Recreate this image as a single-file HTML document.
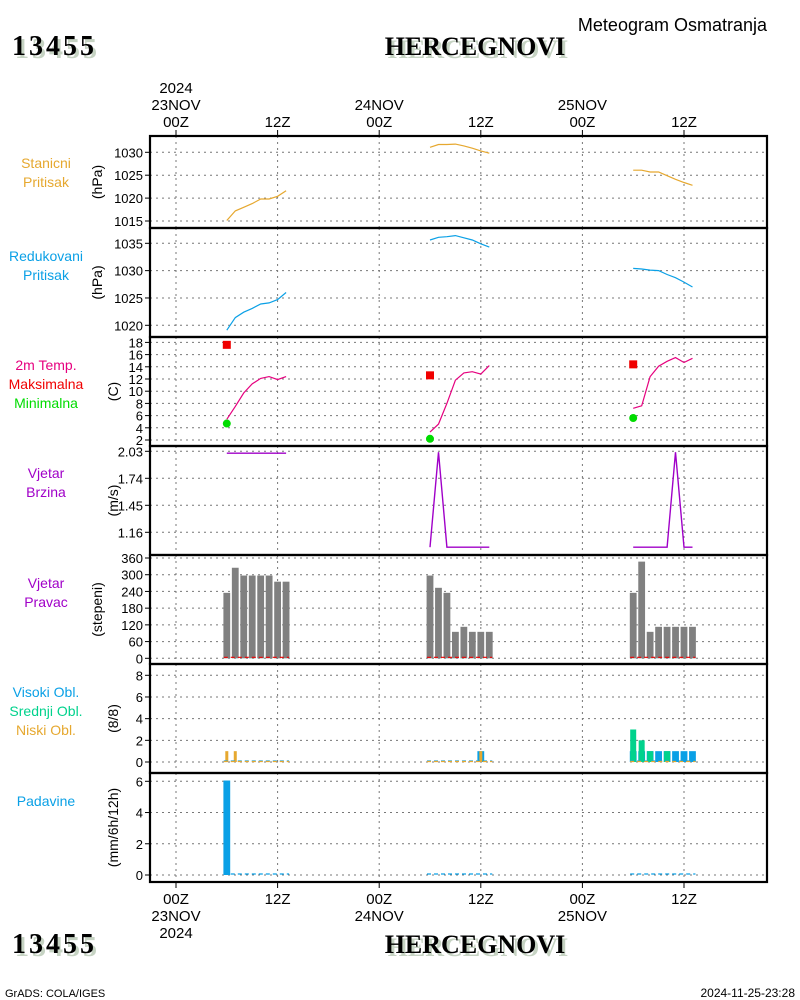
<!DOCTYPE html>
<html><head><meta charset="utf-8"><style>
html,body{margin:0;padding:0;background:#fff;}
svg{display:block;font-family:"Liberation Sans",sans-serif;}
.big{font-family:"Liberation Serif",serif;font-weight:bold;font-size:26px;}
.id{letter-spacing:3px;font-size:28px;}
</style></head><body>
<svg id="chart" width="800" height="1000" viewBox="0 0 800 1000" xmlns="http://www.w3.org/2000/svg">
<rect x="0" y="0" width="800" height="1000" fill="#fff"/>
<g>
<text class="big id" x="15" y="58" fill="#c6d3c3">13455</text>
<text class="big id" x="12" y="55" fill="#000">13455</text>
<text class="big" x="478" y="58" fill="#c6d3c3" text-anchor="middle">HERCEGNOVI</text>
<text class="big" x="475" y="55" fill="#000" text-anchor="middle">HERCEGNOVI</text>
<text x="767" y="31" font-size="18" text-anchor="end">Meteogram Osmatranja</text>
</g>
<g>
<text class="big id" x="15" y="956" fill="#c6d3c3">13455</text>
<text class="big id" x="12" y="953" fill="#000">13455</text>
<text class="big" x="478" y="956" fill="#c6d3c3" text-anchor="middle">HERCEGNOVI</text>
<text class="big" x="475" y="953" fill="#000" text-anchor="middle">HERCEGNOVI</text>
<text x="5" y="997" font-size="11">GrADS: COLA/IGES</text>
<text x="795" y="997" font-size="12" text-anchor="end">2024-11-25-23:28</text>
</g>
<g id="g"></g>
</svg>
<script>
// ---- data (hours since 23NOV 00Z) ----
const hours = [6,7,8,9,10,11,12,13, 30,31,32,33,34,35,36,37, 54,55,56,57,58,59,60,61];
const stationPressure = [1015.1,1017.2,1018.0,1018.8,1019.8,1019.8,1020.4,1021.6, 1031.1,1031.7,1031.7,1031.8,1031.4,1030.9,1030.3,1029.8, 1026.1,1026.1,1025.7,1025.7,1024.9,1024.1,1023.4,1022.8];
const reducedPressure = [1019.1,1021.4,1022.4,1023.1,1023.9,1024.1,1024.7,1026.0, 1035.6,1036.1,1036.2,1036.4,1036.0,1035.6,1034.9,1034.3, 1030.4,1030.3,1030.1,1030.0,1029.3,1028.7,1027.9,1027.0];
const temperature = [5.4,7.5,9.7,11.2,12.1,12.4,11.9,12.4, 3.3,4.6,8.0,11.8,13.0,13.2,12.8,14.2, 7.2,7.6,12.4,14.1,14.9,15.5,14.7,15.4];
const maxHours = [6,30,54];
const maxTemp = [17.6,12.6,14.4];
const minTemp = [4.7,2.2,5.6];
const windSpeed = [2.01,2.01,2.01,2.01,2.01,2.01,2.01,2.01, 1.0,2.02,1.0,1.0,1.0,1.0,1.0,1.0, 1.0,1.0,1.0,1.0,1.0,2.02,1.0,1.0];
const windDir = [235,325,297,297,297,297,275,275, 297,253,235,95,113,95,95,95, 235,347,95,113,113,113,113,113];
const cloudHigh = [0,0,0,0,0,0,0,0, 0,0,0,0,0,0,1,0, 1,1,1,1,1,1,1,1];
const cloudMid = [0,0,0,0,0,0,0,0, 0,0,0,0,0,0,0,0, 3,2,1,0,1,0,0,0];
const cloudLow = [1,1,0,0,0,0,0,0, 0,0,0,0,0,0,1,0, 0,0,0,0,0,0,0,0];
const precip = [6.05,0,0,0,0,0,0,0, 0,0,0,0,0,0,0,0, 0,0,0,0,0,0,0,0];
const p1Ticks = [1015,1020,1025,1030];
const p2Ticks = [1020,1025,1030,1035];
const p3Ticks = [2,4,6,8,10,12,14,16,18];
const p4Ticks = [1.16,1.45,1.74,2.03];
const p5Ticks = [0,60,120,180,240,300,360];
const p6Ticks = [0,2,4,6,8];
const p7Ticks = [0,2,4,6];
const xTickHours = [0,12,24,36,48,60];

const NS="http://www.w3.org/2000/svg";
const G=document.getElementById('g');
function mk(tag,attrs,parent){const e=document.createElementNS(NS,tag);for(const k in attrs)e.setAttribute(k,attrs[k]);(parent||G).appendChild(e);return e;}
const X0=150,X1=767;
function xs(h){return 176+h*(684-176)/60;}
function lin(v0,p0,v1,p1){return v=>p0+(v-v0)*(p1-p0)/(v1-v0);}
const panels=[
 {name:'station-pressure',top:136,bot:228,y:lin(1015,221,1030,152.3),ticks:p1Ticks,unit:'(hPa)',ux:97,labels:[['Stanicni','#e6a82f'],['Pritisak','#e6a82f']],ly:168},
 {name:'reduced-pressure',top:228,bot:337,y:lin(1020,325.3,1035,243.3),ticks:p2Ticks,unit:'(hPa)',ux:97,labels:[['Redukovani','#0aa0e6'],['Pritisak','#0aa0e6']],ly:261},
 {name:'temperature',top:337,bot:446,y:lin(2,440,18,342.4),ticks:p3Ticks,unit:'(C)',ux:113,labels:[['2m Temp.','#e6007f'],['Maksimalna','#f00000'],['Minimalna','#00dc00']],ly:370},
 {name:'wind-speed',top:446,bot:555,y:lin(1.16,532.3,2.03,451.3),ticks:p4Ticks,unit:'(m/s)',ux:113,labels:[['Vjetar','#a000c8'],['Brzina','#a000c8']],ly:478},
 {name:'wind-direction',top:555,bot:664,y:lin(0,658.3,360,558),ticks:p5Ticks,unit:'(stepeni)',ux:97,labels:[['Vjetar','#a000c8'],['Pravac','#a000c8']],ly:588},
 {name:'cloud-cover',top:664,bot:773,y:lin(0,762,8,675.3),ticks:p6Ticks,unit:'(8/8)',ux:113,labels:[['Visoki Obl.','#0aa0e6'],['Srednji Obl.','#00d28c'],['Niski Obl.','#e6a82f']],ly:697},
 {name:'precipitation',top:773,bot:882,y:lin(0,875,6,781.3),ticks:p7Ticks,unit:'(mm/6h/12h)',ux:113,labels:[['Padavine','#0aa0e6']],ly:806}
];
panels.forEach((p,i)=>{
 const grp=mk('g',{});
 
 
 xTickHours.forEach(h=>{const l=mk('line',{x1:xs(h),x2:xs(h),y1:p.top,y2:p.bot,stroke:'#777','stroke-dasharray':'2,4','stroke-width':1},grp);
  });
 p.ticks.forEach(t=>{const yy=p.y(t);
  const l=mk('line',{x1:X0,x2:X1,y1:yy,y2:yy,stroke:'#777','stroke-dasharray':'2,4','stroke-width':1},grp);
  
  const tk=mk('line',{x1:X0-5,x2:X0,y1:yy,y2:yy,stroke:'#000','stroke-width':1},grp);
  
  const tx=mk('text',{x:X0-7,y:yy+5,'font-size':13,'text-anchor':'end'},grp);tx.textContent=String(t);
  });
 const cy=(p.top+p.bot)/2;
 const u=mk('text',{x:p.ux,y:cy,'font-size':14,'text-anchor':'middle',transform:`rotate(-90 ${p.ux} ${cy})`,dy:5},grp);u.textContent=p.unit;
 
 p.labels.forEach((lb,j)=>{const t=mk('text',{x:46,y:p.ly+j*19,'font-size':14,'text-anchor':'middle',fill:lb[1]},grp);t.textContent=lb[0];
  });
 p.g=grp;
});
function seg(){const out=[];for(let d=0;d<3;d++)out.push([d*8,d*8+8]);return out;}
function line(p,vals,color,name,w){
 seg().forEach(([a,b])=>{const pts=[];for(let i=a;i<b;i++)pts.push(xs(hours[i]).toFixed(1)+','+p.y(vals[i]).toFixed(1));
  const pl=mk('polyline',{points:pts.join(' '),fill:'none',stroke:color,'stroke-width':w||1.2},p.g);
  });
}
line(panels[0],stationPressure,'#e6a82f','station-pressure-line');
line(panels[1],reducedPressure,'#0aa0e6','reduced-pressure-line');
line(panels[2],temperature,'#e6007f','temperature-line');
line(panels[3],windSpeed,'#a000c8','wind-speed-line',1.4);
maxHours.forEach((h,i)=>{
 const r=mk('rect',{x:xs(h)-4,y:panels[2].y(maxTemp[i])-4,width:8,height:8,fill:'#f00000'},panels[2].g);
 
 const c=mk('circle',{cx:xs(h),cy:panels[2].y(minTemp[i]),r:4,fill:'#00dc00'},panels[2].g);
 
});
function bars(p,vals,color,name,w){
 vals.forEach((v,i)=>{if(v<=0)return;const y0=p.y(0),y1=p.y(v);
  const r=mk('rect',{x:xs(hours[i])-w/2,y:y1,width:w,height:y0-y1,fill:color},p.g);
  });
}
function zeroDash(p,color,name,off){
 seg().forEach(([a,b])=>{const yy=p.y(0)+(off||0);
  const l=mk('line',{x1:xs(hours[a])-3,x2:xs(hours[b-1])+3,y1:yy,y2:yy,stroke:color,'stroke-width':1.2,'stroke-dasharray':'4,3'},p.g);
  });
}
bars(panels[4],windDir,'#808080','wind-direction-bar',6.8);
zeroDash(panels[4],'#f00000','wind-direction-zero-line',-1);
bars(panels[5],cloudHigh,'#0aa0e6','high-cloud-bar',6.8);
bars(panels[5],cloudMid,'#00d28c','mid-cloud-bar',6);
bars(panels[5],cloudLow,'#e6a82f','low-cloud-bar',3);
zeroDash(panels[5],'#0aa0e6','cloud-zero-line',-1);
zeroDash(panels[5],'#e6a82f','cloud-low-zero-line',-0.5);
bars(panels[6],precip,'#0aa0e6','precipitation-bar',6.8);
zeroDash(panels[6],'#0aa0e6','precipitation-zero-line',-1);
panels.forEach(p=>{const r=mk('rect',{x:X0,y:p.top,width:X1-X0,height:p.bot-p.top,fill:'none',stroke:'#000','stroke-width':2.2});
 });
const xl=[['00Z','23NOV','2024'],['12Z'],['00Z','24NOV'],['12Z'],['00Z','25NOV'],['12Z']];
xTickHours.forEach((h,i)=>{const x=xs(h);
 const t1=mk('line',{x1:x,x2:x,y1:130,y2:136,stroke:'#000'});
 const t2=mk('line',{x1:x,x2:x,y1:882,y2:888,stroke:'#000'});
 xl[i].forEach((s,j)=>{
  const a=mk('text',{x:x,y:127-j*17,'font-size':15,'text-anchor':'middle'});a.textContent=s;
  
  const b=mk('text',{x:x,y:904+j*17,'font-size':15,'text-anchor':'middle'});b.textContent=s;
  
 });
});
</script>
</body></html>
